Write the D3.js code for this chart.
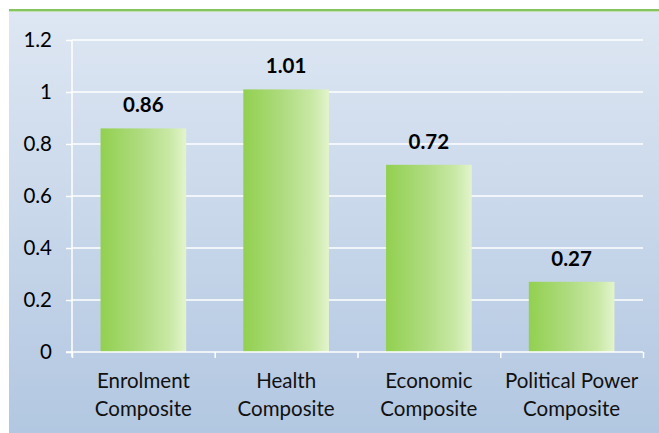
<!DOCTYPE html>
<html>
<head>
<meta charset="utf-8">
<script src="https://cdn.jsdelivr.net/npm/d3@7"></script>
<style>
  body { margin: 0; background: #fff; }
  svg { display: block; }
  .tick text { font-family: Lato, "Open Sans", sans-serif; fill: #000; }
</style>
</head>
<body>
<script>
var categories = [["Enrolment", "Composite"], ["Health", "Composite"], ["Economic", "Composite"], ["Political Power", "Composite"]];
var values = [0.86, 1.01, 0.72, 0.27];
var yTicks = [0, 0.2, 0.4, 0.6, 0.8, 1, 1.2];

var w = 659,
    h = 433,
    plotLeft = 72,
    plotRight = 643,
    plotTop = 40,
    plotBottom = 352,
    fontSize = 20.5;

var svg = d3.select("body").append("svg")
    .attr("width", w)
    .attr("height", h);

var defs = svg.append("defs");
var bg = defs.append("linearGradient")
    .attr("id", "bg")
    .attr("x1", 0).attr("y1", 0).attr("x2", 0).attr("y2", 1);
bg.append("stop").attr("offset", 0).attr("stop-color", "#dee7f3");
bg.append("stop").attr("offset", 1).attr("stop-color", "#b2c7e1");

var barGrad = defs.append("linearGradient")
    .attr("id", "bar")
    .attr("x1", 0).attr("y1", 0).attr("x2", 1).attr("y2", 0);
barGrad.append("stop").attr("offset", 0).attr("stop-color", "#92d050");
barGrad.append("stop").attr("offset", 0.45).attr("stop-color", "#aedb7e");
barGrad.append("stop").attr("offset", 0.8).attr("stop-color", "#c8e8a4");
barGrad.append("stop").attr("offset", 1).attr("stop-color", "#e3f4cd");

// panel
svg.append("rect")
    .attr("x", 9)
    .attr("y", 12)
    .attr("width", w - 9)
    .attr("height", h - 12)
    .attr("fill", "url(#bg)");
svg.append("rect")
    .attr("x", 9)
    .attr("y", 9)
    .attr("width", w - 9)
    .attr("height", 2.5)
    .attr("fill", "#84c561");

var x = d3.scaleBand()
    .domain(d3.range(categories.length))
    .range([plotLeft, plotRight])
    .paddingInner(0.4)
    .paddingOuter(0.2);

var xEdge = d3.scaleLinear()
    .domain([0, categories.length])
    .range([plotLeft, plotRight]);

var y = d3.scaleLinear()
    .domain([0, 1.2])
    .range([plotBottom, plotTop]);

// gridlines
svg.append("g")
    .selectAll("line")
    .data(yTicks.slice(1))
    .enter()
    .append("line")
    .attr("x1", plotLeft)
    .attr("x2", plotRight)
    .attr("y1", function(d) { return y(d); })
    .attr("y2", function(d) { return y(d); })
    .attr("stroke", "#fff")
    .attr("stroke-width", 1.5);

// bars
svg.append("g")
    .selectAll("rect")
    .data(values)
    .enter()
    .append("rect")
    .attr("x", function(d, i) { return x(i); })
    .attr("y", function(d) { return y(d); })
    .attr("width", x.bandwidth())
    .attr("height", function(d) { return y(0) - y(d); })
    .attr("fill", "url(#bar)");

// value labels
svg.append("g")
    .selectAll("text")
    .data(values)
    .enter()
    .append("text")
    .attr("x", function(d, i) { return x(i) + x.bandwidth() / 2; })
    .attr("y", function(d) { return y(d) - 16; })
    .attr("text-anchor", "middle")
    .attr("font-family", "Lato, 'Open Sans', sans-serif")
    .attr("font-weight", "bold")
    .attr("font-size", fontSize)
    .attr("fill", "#000")
    .text(function(d) { return d.toFixed(2); });

// y axis
var yAxis = svg.append("g")
    .attr("transform", "translate(" + plotLeft + ",0)")
    .call(d3.axisLeft(y)
        .tickValues(yTicks)
        .tickFormat(function(d) { return d; })
        .tickSize(6)
        .tickPadding(14));
yAxis.selectAll("line, path").attr("stroke", "#fff").attr("stroke-width", 1.5);
yAxis.select(".domain").attr("d", "M0," + (plotBottom + 5) + "V" + plotTop);
yAxis.selectAll(".tick text").attr("font-size", fontSize);

// x axis
var xAxis = svg.append("g")
    .attr("transform", "translate(0," + plotBottom + ")")
    .call(d3.axisBottom(xEdge)
        .tickValues(d3.range(categories.length + 1))
        .tickFormat("")
        .tickSize(6)
        .tickSizeOuter(0));
xAxis.selectAll("line, path").attr("stroke", "#fff").attr("stroke-width", 1.5);
xAxis.select(".domain").attr("d", "M" + (plotLeft - 6) + ",0H" + plotRight);

var catLabels = svg.append("g")
    .selectAll("text")
    .data(categories)
    .enter()
    .append("text")
    .attr("x", function(d, i) { return x(i) + x.bandwidth() / 2; })
    .attr("y", 388)
    .attr("text-anchor", "middle")
    .attr("font-family", "Lato, 'Open Sans', sans-serif")
    .attr("font-size", fontSize)
    .attr("fill", "#111");
catLabels.selectAll("tspan")
    .data(function(d) { return d; })
    .enter()
    .append("tspan")
    .attr("x", function() { return d3.select(this.parentNode).attr("x"); })
    .attr("dy", function(d, i) { return i === 0 ? 0 : 28; })
    .text(function(d) { return d; });
</script>
</body>
</html>
